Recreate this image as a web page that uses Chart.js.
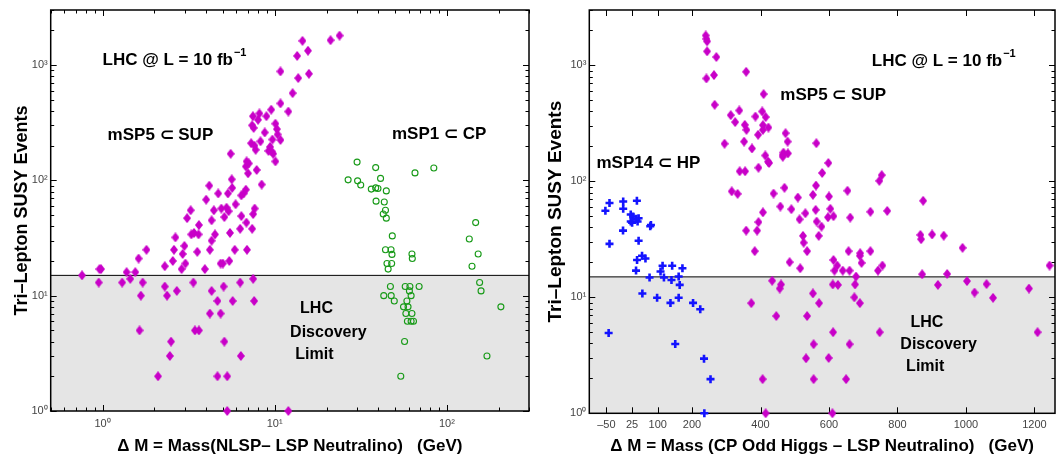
<!DOCTYPE html>
<html>
<head>
<meta charset="utf-8">
<script src="https://cdn.jsdelivr.net/npm/chart.js@4.4.1/dist/chart.umd.min.js"></script>
<style>
  html, body { margin: 0; padding: 0; background: #fff; }
  body { width: 1056px; height: 455px; position: relative; overflow: hidden; }
  canvas { position: absolute; top: 0; }
  #leftChart { left: 0; }
  #rightChart { left: 530px; }
</style>
</head>
<body>
<canvas id="leftChart" width="530" height="455"></canvas>
<canvas id="rightChart" width="526" height="455"></canvas>
<script>
// tick values
const eventTicks = [1, 10, 100, 1000];
const nlspTicks = [1, 10, 100];
const massTicks = [-50, 25, 100, 200, 400, 600, 800, 1000, 1200];
const discoveryLimit = 15;

// left panel: mSP5 (SUP) vs NLSP-LSP mass gap
const supLeftX = [0.76, 0.96, 0.98, 0.95, 1.3, 1.38, 1.45, 1.55, 1.62, 1.71, 1.67, 1.64, 1.8, 2.3, 2.3, 2.37, 2.7, 2.5, 2.46, 2.1,
  2.56, 2.6, 2.65, 2.99, 2.92, 3.03, 2.88, 3.28, 3.37, 3.44, 3.63, 3.55, 3.61, 3.63, 3.93, 4.2, 4.3, 4.5, 4.3, 4.65,
  4.2, 4.85, 5.0, 5.05, 4.85, 5.1, 4.65, 5.3, 5.3, 5.45, 5.5, 5.7, 5.86, 6.3, 6.3, 6.36, 6.9, 6.85, 7.4, 7.5,
  7.6, 3.25, 3.1, 3.4, 4.3, 4.43, 4.0, 4.17, 4.7, 4.9, 5.1, 5.25, 5.4, 5.35, 5.66, 5.63, 5.55, 5.93, 6.4, 6.4,
  6.6, 6.8, 7.0, 6.8, 7.07, 6.87, 7.86, 8.4, 7.3, 7.75, 7.63, 8.27, 8.0, 7.47, 7.4, 7.55, 8.15, 8.75, 8.95, 9.2,
  9.55, 9.4, 9.6, 9.8, 10.1, 9.7, 10.1, 10.3, 10.4, 10.8, 10.8, 12, 12.7, 10.8, 13.7, 13.5, 15.8, 15.6, 14.5, 21.1,
  23.8, 7.5, 7.65, 12];
const supLeftY = [15, 17, 17, 13, 13, 16, 14, 16, 21, 13, 10, 5, 25, 18, 12, 10, 11, 4, 3, 2,
  20, 25, 32, 27, 23, 19, 17, 34, 13, 5, 5, 24, 34, 41, 17, 25, 30, 34, 11, 9,
  7, 19, 19, 12, 7, 4, 2, 2, 1, 20, 35, 9, 25, 38, 13, 3, 25, 43, 38, 14,
  9, 55, 47, 35, 45, 55, 68, 90, 77, 57, 48, 58, 54, 77, 86, 102, 170, 62, 49, 74,
  77, 83, 115, 132, 140, 146, 123, 92, 210, 184, 200, 218, 335, 360, 300, 285, 380, 260, 360, 180,
  410, 195, 178, 170, 146, 226, 310, 278, 250, 224, 465, 395, 570, 880, 770, 1200, 840, 1330, 1620, 1640,
  1800, 51, 57, 1];

// left panel: mSP1 (CP)
const cpX = [30.1, 38.6, 26.7, 30.3, 31.6, 41.2, 36.4, 38.6, 39.8, 44.5, 38.8, 43.3, 44, 42.7, 44.5, 65.3, 84, 147,
  48.2, 44, 47.4, 48, 44.9, 47.8, 45.6, 62.7, 63, 135, 152, 140, 155, 158, 206, 171,
  47, 43, 47.5, 49.5, 57.3, 61, 69, 60.6, 62, 58.6, 56, 59.5, 57.8, 62.7, 59, 62, 64, 56.8, 54];
const cpY = [144, 129, 101, 99, 91, 104, 84, 86, 85, 81, 66, 65, 55, 51, 47, 116, 128, 43,
  33, 25, 25, 22.8, 19, 19, 17, 23, 21, 31, 23, 18, 13, 11, 8, 3,
  12, 10, 10, 9, 12, 12, 12, 11, 10, 9, 8, 8, 7, 7, 6, 6, 6, 4, 2];

// right panel: mSP5 (SUP) vs CP odd Higgs - LSP mass gap
const supRightX = [240, 242, 244, 244, 271, 242, 264, 266, 358, 409, 313, 326, 338, 354, 359, 385, 405, 407, 415, 423,
  407, 393, 352, 375, 295, 339, 355, 394, 414, 422, 425, 316, 333, 407, 394, 470, 465, 473, 479, 467,
  480, 438, 458, 490, 509, 514, 563, 598, 580, 562, 553, 600, 561, 604, 597, 613, 564, 578, 570, 654,
  662, 721, 770, 747, 754, 531, 390, 358, 383, 485, 516, 524, 526, 536, 657, 691, 695, 721, 613, 624,
  616, 640, 660, 679, 743, 756, 434, 460, 456, 611, 676, 553, 674, 875, 867, 869, 901, 935, 990, 872,
  945, 1244, 918, 1003, 1025, 1060, 1079, 1184, 1209, 571, 536, 626, 690, 612, 748, 555, 660, 533, 599, 555,
  650, 610, 373, 446, 406, 415, 690, 465];
const supRightY = [1810, 1690, 1610, 1320, 1180, 771, 824, 457, 880, 565, 372, 324, 408, 307, 278, 362, 400, 305, 358, 291,
  278, 252, 220, 192, 211, 122, 122, 131, 167, 148, 144, 82, 78, 54, 44.5, 88, 169, 260, 220, 177,
  174, 78.5, 60.6, 57.5, 72.5, 47, 213, 144, 118, 92, 76.5, 74, 56.8, 58, 49, 50, 45, 40.7, 33.9, 83,
  48.7, 54.6, 55.6, 101, 113, 53, 37.6, 37.6, 25, 20.1, 17.8, 33.9, 29.6, 25, 25, 24, 19.8, 25, 21, 18.8,
  17, 17, 17, 15.1, 17, 18.8, 13.9, 12.9, 11.9, 12.9, 12.9, 10.8, 10, 68, 34.5, 31.7, 34.8, 34, 26.7, 15.8,
  15.9, 18.8, 12.8, 13.8, 11, 13, 9.9, 11.9, 5, 8.9, 6.9, 12.8, 8.9, 5, 5, 3.94, 3.94, 2.98, 3, 1.97,
  1.97, 1, 8.9, 6.9, 1.97, 1, 22.8, 163];

// right panel: mSP14 (HP)
const hpX = [-53, -41, -1, -1, 39, 21, 28, 37.5, 44, 21, 80, 78, -1.5, -41, 44, 54, 39.5, 64, 36.5, 76,
  114, 108, 142, 172, 118, 140, 161, 164, 55, 98, 137, 161, 203, 224, -43.5, 151, 235, 254, 236, 25, 41];
const hpY = [55.7, 65, 67, 58, 68, 51.7, 49.7, 47.5, 48, 45, 42, 41, 37.6, 28.9, 30.7, 22.8, 21, 21.6, 17, 14.8,
  18.7, 16.7, 18.7, 17.8, 14.8, 14.1, 15.1, 12.8, 10.8, 9.9, 8.95, 9.9, 8.95, 7.9, 4.93, 3.96, 2.96, 1.97, 1, 44, 45];

const FONT = '"Liberation Sans", Arial, sans-serif';
Chart.defaults.font.family = FONT;

const pts = (xs, ys) => xs.map((x, i) => ({ x: x, y: ys[i] }));

const SUP = { '0': '\u2070', '1': '\u00b9', '2': '\u00b2', '3': '\u00b3', '-': '\u207b' };
function powLabel(v) {
  const e = Math.round(Math.log10(v));
  return '10' + String(e).split('').map(c => SUP[c]).join('');
}

function makeDiamond(w, h, color) {
  const c = document.createElement('canvas');
  c.width = w; c.height = h;
  const g = c.getContext('2d');
  g.fillStyle = color;
  g.beginPath();
  g.moveTo(w / 2, 0); g.lineTo(w, h / 2); g.lineTo(w / 2, h); g.lineTo(0, h / 2);
  g.closePath();
  g.fill();
  return c;
}
const diamond = makeDiamond(8, 10, '#c800c8');

function logMarks(min, max) {
  const out = [];
  for (let e = Math.floor(Math.log10(min)); e <= Math.ceil(Math.log10(max)); e++) {
    for (let m = 1; m <= 9; m++) {
      const v = m * Math.pow(10, e);
      if (v >= min * 0.999 && v <= max * 1.001) out.push({ v: v, major: m === 1 });
    }
  }
  return out;
}

// shaded discovery region, frame and inward ticks
const decor = {
  id: 'decor',
  beforeDatasetsDraw(chart, args, o) {
    const { ctx, chartArea: a } = chart;
    const xs = chart.scales.x, ys = chart.scales.y;
    const yl = ys.getPixelForValue(o.limit);
    ctx.save();
    ctx.fillStyle = '#e5e5e5';
    ctx.fillRect(a.left, yl, a.right - a.left, a.bottom - yl);
    ctx.strokeStyle = '#000';
    ctx.lineWidth = 1;
    ctx.beginPath();
    ctx.moveTo(a.left, yl); ctx.lineTo(a.right, yl);
    logMarks(ys.min, ys.max).forEach(t => {
      const p = Math.round(ys.getPixelForValue(t.v)) + 0.5;
      const len = t.major ? 6 : 3.5;
      ctx.moveTo(a.left, p); ctx.lineTo(a.left + len, p);
      ctx.moveTo(a.right, p); ctx.lineTo(a.right - len, p);
    });
    const xm = xs.type === 'logarithmic' ? logMarks(xs.min, xs.max) : o.xMarks.map(v => ({ v: v, major: true }));
    xm.forEach(t => {
      const p = Math.round(xs.getPixelForValue(t.v)) + 0.5;
      const len = t.major ? 6 : 3.5;
      ctx.moveTo(p, a.bottom); ctx.lineTo(p, a.bottom - len);
      ctx.moveTo(p, a.top); ctx.lineTo(p, a.top + len);
    });
    ctx.stroke();
    ctx.lineWidth = 1.5;
    ctx.strokeRect(a.left, a.top, a.right - a.left, a.bottom - a.top);
    ctx.restore();
  },
  afterDatasetsDraw(chart, args, o) {
    const { ctx } = chart;
    const xs = chart.scales.x, ys = chart.scales.y;
    ctx.save();
    ctx.fillStyle = '#000';
    ctx.textBaseline = 'middle';
    o.notes.forEach(n => {
      const px = xs.getPixelForValue(n.x), py = ys.getPixelForValue(n.y);
      ctx.font = 'bold ' + (n.size || 17) + 'px ' + FONT;
      ctx.textAlign = n.align || 'left';
      ctx.fillText(n.text, px, py);
      if (n.sup) {
        const w = ctx.measureText(n.text).width;
        ctx.font = 'bold 11px ' + FONT;
        ctx.textAlign = 'left';
        ctx.fillText(n.sup, px + w + 1, py - 7);
      }
    });
    ctx.restore();
  }
};

function baseOptions(xScale, yWidth, yTitleSize, yTitlePad, xHeight, notes, xMarks) {
  return {
    responsive: false,
    animation: false,
    layout: { autoPadding: false, padding: { top: 10, right: 1, left: 0, bottom: 0 } },
    plugins: {
      legend: { display: false },
      tooltip: { enabled: false },
      decor: { limit: discoveryLimit, notes: notes, xMarks: xMarks }
    },
    scales: {
      x: Object.assign({
        afterFit: s => { s.height = xHeight; },
        grid: { display: false, drawTicks: false },
        border: { display: false }
      }, xScale),
      y: {
        type: 'logarithmic', min: 1, max: 3000,
        afterBuildTicks: s => { s.ticks = eventTicks.map(v => ({ value: v })); },
        afterFit: s => { s.width = yWidth; },
        grid: { display: false, drawTicks: false },
        border: { display: false },
        ticks: { callback: v => powLabel(v), color: '#444', font: { size: 11 }, padding: 3, autoSkip: false },
        title: { display: true, text: 'Tri\u2013Lepton SUSY Events', color: '#000',
          font: { size: yTitleSize, weight: 'bold', lineHeight: 1 }, padding: { top: yTitlePad, bottom: 0 } }
      }
    }
  };
}

new Chart(document.getElementById('leftChart'), {
  type: 'scatter',
  data: {
    datasets: [
      { label: 'mSP5 \u2282 SUP', data: pts(supLeftX, supLeftY), pointStyle: diamond, pointRadius: 5, clip: false },
      { label: 'mSP1 \u2282 CP', data: pts(cpX, cpY), pointStyle: 'circle', pointRadius: 3,
        backgroundColor: 'rgba(0,0,0,0)', borderColor: '#179a17', borderWidth: 1.1, clip: false }
    ]
  },
  options: baseOptions({
    type: 'logarithmic', min: 0.5, max: 300,
    afterBuildTicks: s => { s.ticks = nlspTicks.map(v => ({ value: v })); },
    ticks: { callback: v => powLabel(v), color: '#444', font: { size: 11 }, padding: 6, autoSkip: false, maxRotation: 0 },
    title: { display: true, text: '\u0394 M = Mass(NLSP\u2013 LSP Neutralino)   (GeV)', color: '#000',
      font: { size: 17, weight: 'bold', lineHeight: 1 }, padding: { top: 0, bottom: 0 } }
  }, 50.7, 18, 13, 44, [
    { text: 'LHC @ L = 10 fb', sup: '\u22121', x: 1.0, y: 1100 },
    { text: 'mSP5 \u2282 SUP', x: 1.07, y: 245 },
    { text: 'mSP1 \u2282 CP', x: 48, y: 250 },
    { text: 'LHC', x: 17.5, y: 7.8, align: 'center', size: 16 },
    { text: 'Discovery', x: 20.5, y: 4.83, align: 'center', size: 16 },
    { text: 'Limit', x: 17, y: 3.1, align: 'center', size: 16 }
  ], null),
  plugins: [decor]
});

new Chart(document.getElementById('rightChart'), {
  type: 'scatter',
  data: {
    datasets: [
      { label: 'mSP5 \u2282 SUP', data: pts(supRightX, supRightY), pointStyle: diamond, pointRadius: 5, clip: false },
      { label: 'mSP14 \u2282 HP', data: pts(hpX, hpY), pointStyle: 'cross', pointRadius: 4,
        borderColor: '#1414ff', borderWidth: 2.6, clip: false }
    ]
  },
  options: baseOptions({
    type: 'linear', min: -100, max: 1260,
    afterBuildTicks: s => { s.ticks = massTicks.map(v => ({ value: v })); },
    ticks: { callback: v => (v < 0 ? '\u2013' + Math.abs(v) : String(v)), color: '#444', font: { size: 11 },
      padding: 5, autoSkip: false, maxRotation: 0 },
    title: { display: true, text: '\u0394 M = Mass (CP Odd Higgs \u2013 LSP Neutralino)   (GeV)', color: '#000',
      font: { size: 17, weight: 'bold', lineHeight: 1 }, padding: { top: 0, bottom: 0 } }
  }, 59.3, 19, 16, 41.7, [
    { text: 'LHC @ L = 10 fb', sup: '\u22121', x: 725, y: 1080 },
    { text: 'mSP5 \u2282 SUP', x: 458, y: 547 },
    { text: 'mSP14 \u2282 HP', x: -79, y: 144 },
    { text: 'LHC', x: 886, y: 6.05, align: 'center', size: 16 },
    { text: 'Discovery', x: 920, y: 3.88, align: 'center', size: 16 },
    { text: 'Limit', x: 881, y: 2.52, align: 'center', size: 16 }
  ], massTicks),
  plugins: [decor]
});
</script>
</body>
</html>
